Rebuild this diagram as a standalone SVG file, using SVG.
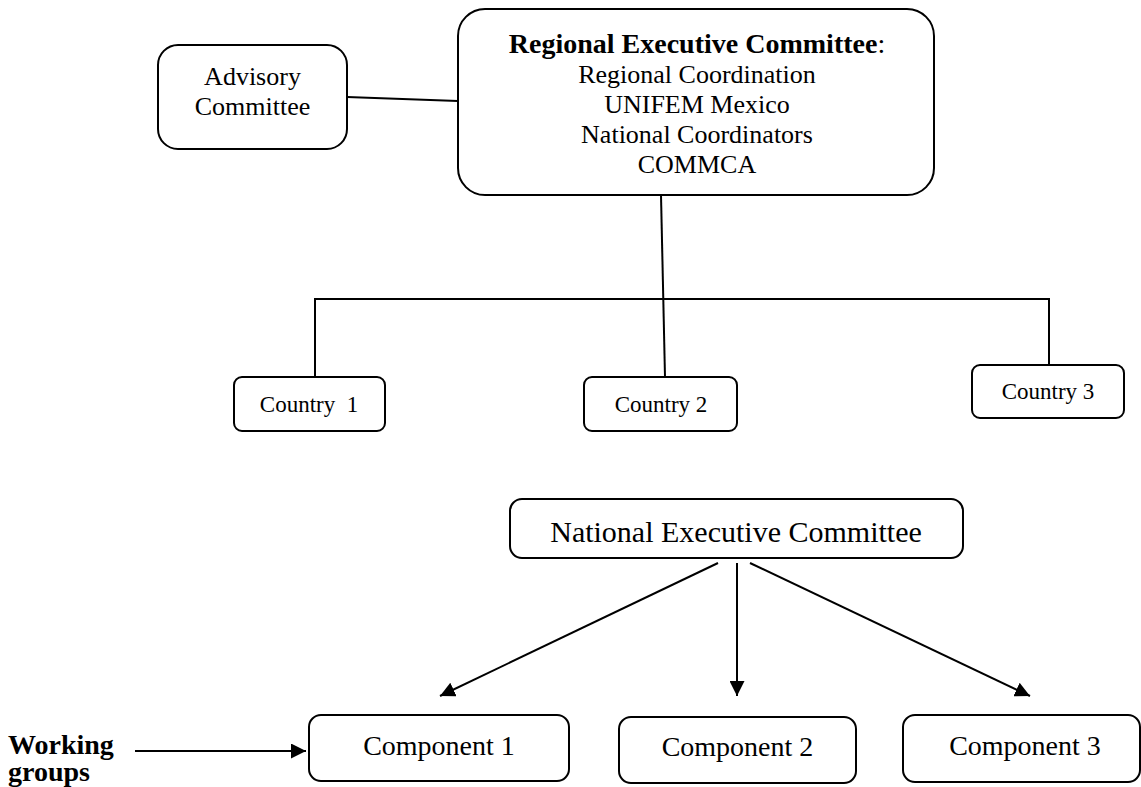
<svg xmlns="http://www.w3.org/2000/svg" width="1141" height="787" viewBox="0 0 1141 787">
<style>
.box{fill:#fff;stroke:#000;stroke-width:2}
.ln{fill:none;stroke:#000;stroke-width:2}
text{font-family:"Liberation Serif","Times New Roman",serif;fill:#000;text-anchor:middle}
.b{font-weight:bold}
</style>
<defs>
<marker id="ah" markerUnits="userSpaceOnUse" markerWidth="15" markerHeight="15" viewBox="0 0 15 15" refX="15" refY="7.5" orient="auto">
<path d="M0,0 L15,7.5 L0,15 z" fill="#000"/>
</marker>
</defs>
<g id="connectors">
<line class="ln" x1="347" y1="97" x2="458" y2="101"/>
<line class="ln" x1="661" y1="195" x2="665" y2="377"/>
<polyline class="ln" points="315,377 315,299 1049,299 1049,365"/>
<line class="ln" x1="718" y1="563" x2="440" y2="696" marker-end="url(#ah)"/>
<line class="ln" x1="737" y1="563" x2="737" y2="696" marker-end="url(#ah)"/>
<line class="ln" x1="750" y1="563" x2="1030" y2="696" marker-end="url(#ah)"/>
<line class="ln" x1="135" y1="751" x2="306" y2="751" marker-end="url(#ah)"/>
</g>
<g id="advisory">
<rect class="box" x="158" y="45" width="189" height="104" rx="20"/>
<text x="252.5" y="85" font-size="26">Advisory</text>
<text x="252.5" y="115" font-size="26">Committee</text>
</g>
<g id="regional">
<rect class="box" x="458" y="9" width="476" height="186" rx="27"/>
<text x="697" y="53" font-size="28"><tspan class="b">Regional Executive Committee</tspan>:</text>
<text x="697" y="83" font-size="26">Regional Coordination</text>
<text x="697" y="113" font-size="26">UNIFEM Mexico</text>
<text x="697" y="143" font-size="26">National Coordinators</text>
<text x="697" y="173" font-size="26">COMMCA</text>
</g>
<g id="country1">
<rect class="box" x="234" y="377" width="151" height="54" rx="8"/>
<text x="309" y="412" font-size="23" xml:space="preserve">Country  1</text>
</g>
<g id="country2">
<rect class="box" x="584" y="377" width="153" height="54" rx="8"/>
<text x="661" y="412" font-size="23">Country 2</text>
</g>
<g id="country3">
<rect class="box" x="972" y="365" width="152" height="53" rx="8"/>
<text x="1048" y="399" font-size="23">Country 3</text>
</g>
<g id="national">
<rect class="box" x="510" y="499" width="453" height="59" rx="12"/>
<text x="736" y="542" font-size="30">National Executive Committee</text>
</g>
<g id="component1">
<rect class="box" x="309" y="715" width="260" height="66" rx="12"/>
<text x="439" y="755" font-size="28">Component 1</text>
</g>
<g id="component2">
<rect class="box" x="619" y="717" width="237" height="66" rx="12"/>
<text x="737.5" y="756" font-size="28">Component 2</text>
</g>
<g id="component3">
<rect class="box" x="903" y="715" width="237" height="67" rx="12"/>
<text x="1025" y="755" font-size="28">Component 3</text>
</g>
<g id="working">
<text class="b" x="8" y="754" font-size="28" style="text-anchor:start">Working</text>
<text class="b" x="8" y="781" font-size="28" style="text-anchor:start">groups</text>
</g>
</svg>
